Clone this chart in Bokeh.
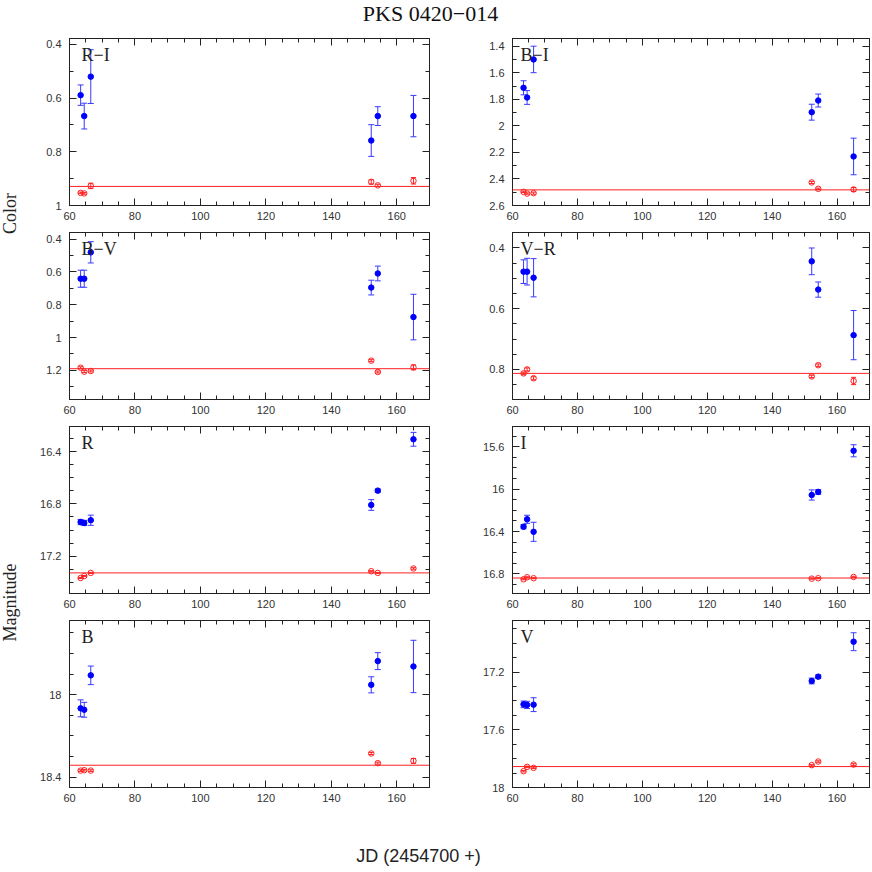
import numpy as np
from bokeh.plotting import figure
from bokeh.models import (Range1d, FixedTicker, LinearAxis, Whisker, ColumnDataSource,
                          Span, Label, TeeHead)
from bokeh.layouts import column, row
from bokeh.embed import file_html
from bokeh.resources import INLINE

# ---------------- data ----------------
title_text = "PKS 0420−014"
xlabel_text = "JD (2454700 +)"
jd = [63.4, 64.5, 66.5, 152.2, 154.2, 165.1]

x_ticks = [60, 80, 100, 120, 140, 160]
x_tick_labels = ["60", "80", "100", "120", "140", "160"]

RI_blazar = [0.589, 0.667, 0.52, 0.758, 0.667, 0.667]
RI_blazar_err = [0.038, 0.048, 0.10, 0.059, 0.035, 0.077]
RI_star = [0.953, 0.955, 0.927, 0.912, 0.925, 0.908]
RI_star_err = [0.003, 0.003, 0.010, 0.008, 0.004, 0.012]
RI_mean = 0.929
RI_ticks = [0.4, 0.6, 0.8, 1.0]
RI_labels = ["0.4", "0.6", "0.8", "1"]

BI_blazar = [1.712, 1.785, 1.498, 1.896, 1.808, 2.23]
BI_blazar_err = [0.053, 0.052, 0.10, 0.06, 0.049, 0.138]
BI_star = [2.497, 2.51, 2.507, 2.426, 2.474, 2.479]
BI_star_err = [0.005, 0.005, 0.008, 0.008, 0.005, 0.015]
BI_mean = 2.482
BI_ticks = [1.4, 1.6, 1.8, 2.0, 2.2, 2.4, 2.6]
BI_labels = ["1.4", "1.6", "1.8", "2", "2.2", "2.4", "2.6"]

BV_blazar = [0.641, 0.641, 0.48, 0.695, 0.609, 0.875]
BV_blazar_err = [0.052, 0.052, 0.065, 0.045, 0.045, 0.139]
BV_star = [1.184, 1.208, 1.204, 1.141, 1.21, 1.182]
BV_star_err = [0.006, 0.006, 0.006, 0.006, 0.006, 0.015]
BV_mean = 1.19
BV_ticks = [0.4, 0.6, 0.8, 1.0, 1.2]
BV_labels = ["0.4", "0.6", "0.8", "1", "1.2"]

VR_blazar = [0.478, 0.478, 0.498, 0.444, 0.537, 0.687]
VR_blazar_err = [0.039, 0.044, 0.063, 0.044, 0.025, 0.081]
VR_star = [0.813, 0.80, 0.829, 0.823, 0.786, 0.838]
VR_star_err = [0.004, 0.005, 0.005, 0.004, 0.004, 0.012]
VR_mean = 0.813
VR_ticks = [0.4, 0.6, 0.8]
VR_labels = ["0.4", "0.6", "0.8"]

R_blazar = [16.939, 16.946, 16.925, 16.808, 16.698, 16.304]
R_blazar_err = [0.02, 0.02, 0.039, 0.041, 0.012, 0.053]
R_star = [17.368, 17.353, 17.329, 17.316, 17.329, 17.295]
R_star_err = [0.004, 0.004, 0.004, 0.004, 0.004, 0.006]
R_mean = 17.329
R_ticks = [16.4, 16.8, 17.2]
R_labels = ["16.4", "16.8", "17.2"]

I_blazar = [16.354, 16.284, 16.402, 16.055, 16.026, 15.638]
I_blazar_err = [0.02, 0.038, 0.09, 0.048, 0.022, 0.057]
I_star = [16.85, 16.831, 16.84, 16.844, 16.84, 16.828]
I_star_err = [0.005, 0.005, 0.005, 0.005, 0.005, 0.006]
I_mean = 16.838
I_ticks = [15.6, 16.0, 16.4, 16.8]
I_labels = ["15.6", "16", "16.4", "16.8"]

B_blazar = [18.066, 18.073, 17.906, 17.952, 17.837, 17.863]
B_blazar_err = [0.041, 0.036, 0.045, 0.039, 0.041, 0.127]
B_star = [18.368, 18.366, 18.368, 18.285, 18.332, 18.321]
B_star_err = [0.004, 0.004, 0.004, 0.005, 0.005, 0.012]
B_mean = 18.342
B_ticks = [18.0, 18.4]
B_labels = ["18", "18.4"]

V_blazar = [17.424, 17.428, 17.426, 17.262, 17.232, 16.99]
V_blazar_err = [0.023, 0.025, 0.048, 0.02, 0.012, 0.062]
V_star = [17.887, 17.857, 17.864, 17.845, 17.82, 17.841]
V_star_err = [0.005, 0.005, 0.005, 0.005, 0.005, 0.006]
V_mean = 17.855
V_ticks = [17.2, 17.6, 18.0]
V_labels = ["17.2", "17.6", "18"]

# ---------------- styling ----------------
BLUE = "#0000ff"
BLUE_ERR = "#3a3aff"
RED = "#ff2020"
FRAME = "#222222"
TICK_FONT = "Liberation Sans"


def style_axis(ax, ticker, labels=None, show=True, standoff=8):
    ax.ticker = ticker
    ax.major_tick_in = 7
    ax.major_tick_out = 0
    ax.minor_tick_in = 4
    ax.minor_tick_out = 0
    ax.axis_line_color = FRAME
    ax.major_tick_line_color = FRAME
    ax.minor_tick_line_color = FRAME
    if show:
        ax.major_label_text_font = TICK_FONT
        ax.major_label_text_font_size = "11px"
        ax.major_label_text_color = "#333333"
        ax.major_label_standoff = standoff
        if labels is not None:
            ax.major_label_overrides = {t: l for t, l in zip(ticker.ticks, labels)}
    else:
        ax.major_label_text_color = None
        ax.major_label_text_font_size = "1px"
        ax.major_label_standoff = 0


def make_panel(name, blazar, berr, star, serr, mean, yr, yticks, ylabels, ystep, col):
    left = col == 0
    p = figure(frame_width=360 if left else 357, frame_height=167,
               x_range=Range1d(60, 170), y_range=Range1d(yr[0], yr[1]),
               min_border_left=41 if left else 75, min_border_right=8 if left else 2,
               min_border_top=4, min_border_bottom=23,
               output_backend="svg", toolbar_location=None)
    p.xgrid.visible = False
    p.ygrid.visible = False
    p.outline_line_color = FRAME
    p.background_fill_color = "white"
    p.border_fill_color = "white"

    lo, hi = min(yr), max(yr)
    minor_y = [round(v, 3) for v in np.arange(np.ceil(lo / ystep) * ystep, hi + 1e-9, ystep)]
    minor_x = list(range(60, 171, 5))

    xt = FixedTicker(ticks=x_ticks, minor_ticks=minor_x)
    yt = FixedTicker(ticks=yticks, minor_ticks=minor_y)
    style_axis(p.xaxis[0], xt, x_tick_labels, True, 6)
    style_axis(p.yaxis[0], yt, ylabels, True, 8)

    top = LinearAxis()
    style_axis(top, FixedTicker(ticks=x_ticks, minor_ticks=minor_x), show=False)
    p.add_layout(top, "above")
    right = LinearAxis()
    style_axis(right, FixedTicker(ticks=yticks, minor_ticks=minor_y), show=False)
    p.add_layout(right, "right")

    p.add_layout(Span(location=mean, dimension="width", line_color=RED, line_width=1))

    bsrc = ColumnDataSource(dict(x=jd, y=blazar,
                                 up=[v - e for v, e in zip(blazar, berr)],
                                 lo=[v + e for v, e in zip(blazar, berr)]))
    ssrc = ColumnDataSource(dict(x=jd, y=star,
                                 up=[v - e for v, e in zip(star, serr)],
                                 lo=[v + e for v, e in zip(star, serr)]))
    p.add_layout(Whisker(source=bsrc, base="x", upper="up", lower="lo",
                         line_color=BLUE_ERR, line_width=1,
                         upper_head=TeeHead(size=6, line_color=BLUE_ERR, line_width=1),
                         lower_head=TeeHead(size=6, line_color=BLUE_ERR, line_width=1)))
    p.add_layout(Whisker(source=ssrc, base="x", upper="up", lower="lo",
                         line_color=RED, line_width=1,
                         upper_head=TeeHead(size=5, line_color=RED, line_width=1),
                         lower_head=TeeHead(size=5, line_color=RED, line_width=1)))
    p.scatter("x", "y", source=bsrc, marker="circle", size=5.5,
              fill_color=BLUE, line_color=BLUE)
    p.scatter("x", "y", source=ssrc, marker="circle", size=5.5,
              fill_color=None, line_color=RED, line_width=1)

    p.add_layout(Label(x=60, y=yr[1], x_offset=12 if left else 8, y_offset=-6,
                       text=name, text_font="Liberation Serif", text_font_size="18px",
                       text_baseline="top", text_align="left", text_color=FRAME))
    return p


panels = [
    ("R−I", RI_blazar, RI_blazar_err, RI_star, RI_star_err, RI_mean, (1.0, 0.378), RI_ticks, RI_labels, 0.1),
    ("B−I", BI_blazar, BI_blazar_err, BI_star, BI_star_err, BI_mean, (2.6, 1.34), BI_ticks, BI_labels, 0.1),
    ("B−V", BV_blazar, BV_blazar_err, BV_star, BV_star_err, BV_mean, (1.378, 0.359), BV_ticks, BV_labels, 0.1),
    ("V−R", VR_blazar, VR_blazar_err, VR_star, VR_star_err, VR_mean, (0.899, 0.349), VR_ticks, VR_labels, 0.05),
    ("R", R_blazar, R_blazar_err, R_star, R_star_err, R_mean, (17.487, 16.206), R_ticks, R_labels, 0.1),
    ("I", I_blazar, I_blazar_err, I_star, I_star_err, I_mean, (16.984, 15.409), I_ticks, I_labels, 0.1),
    ("B", B_blazar, B_blazar_err, B_star, B_star_err, B_mean, (18.45, 17.64), B_ticks, B_labels, 0.1),
    ("V", V_blazar, V_blazar_err, V_star, V_star_err, V_mean, (18.0, 16.843), V_ticks, V_labels, 0.1),
]

figs = [make_panel(*args, col=i % 2) for i, args in enumerate(panels)]
rows = [row(figs[i], figs[i + 1]) for i in range(0, 8, 2)]


def blank(w, h):
    f = figure(width=w, height=h, x_range=Range1d(0, w), y_range=Range1d(0, h),
               x_axis_type=None, y_axis_type=None, min_border=0,
               output_backend="svg", toolbar_location=None)
    f.xgrid.visible = False
    f.ygrid.visible = False
    f.outline_line_color = None
    return f


title_fig = blank(871, 34)
title_fig.add_layout(Label(x=430, y=34, y_offset=0, text=title_text, text_font="Liberation Serif",
                           text_font_size="22px", text_align="center", text_baseline="top",
                           text_color="#111111"))

side = blank(28, 776)
side.add_layout(Label(x=9, y=597, text="Color", angle=np.pi / 2, text_font="Liberation Serif",
                      text_font_size="18px", text_align="center", text_baseline="middle",
                      text_color="#222222"))
side.add_layout(Label(x=9, y=208, text="Magnitude", angle=np.pi / 2, text_font="Liberation Serif",
                      text_font_size="18px", text_align="center", text_baseline="middle",
                      text_color="#222222"))

xlab = blank(871, 61)
xlab.add_layout(Label(x=418, y=16, text=xlabel_text, text_font="Liberation Sans",
                      text_font_size="18px", text_align="center", text_baseline="middle",
                      text_color="#222222"))

layout = column(title_fig, row(side, column(*rows)), xlab)

open("out.html", "w").write(file_html(layout, INLINE))
